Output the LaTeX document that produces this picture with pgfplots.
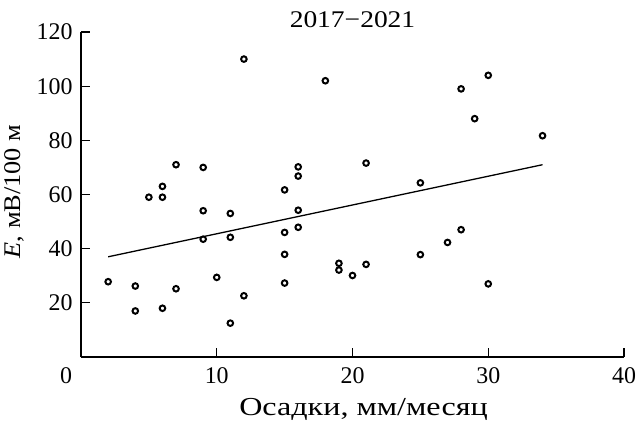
\documentclass[border=0pt]{standalone}
\usepackage{pgfplots}
\pgfplotsset{compat=1.18}
\usepackage{fontspec}
\setmainfont{Liberation Serif}
\newfontfamily\wideA{Liberation Serif}[FakeStretch=1.24]
\newfontfamily\wideB{Liberation Serif}[FakeStretch=1.15]
\newfontfamily\wideC{Liberation Serif}[FakeStretch=1.1]
\begin{document}
\begin{tikzpicture}
\begin{axis}[
  name=ax,
  scale only axis,
  width=543bp, height=325bp,
  xmin=0, xmax=40, ymin=0, ymax=120,
  axis lines=left,
  axis line style={-, line width=1.1pt},
  xtick={0,10,20,30,40},
  xticklabels={\hspace*{-30bp}0,10,20,30,40},
  ytick={20,40,...,120},
  major tick length=9bp,
  tick style={line width=1.1pt, black},
  tick align=inside,
  /pgf/number format/assume math mode=true,
  tick label style={font=\fontsize{24}{27}\selectfont},
  xticklabel style={yshift=-7bp},
  yticklabel style={xshift=-5bp},
  xlabel style={font=\fontsize{26}{29}\selectfont\wideA, yshift=-8bp, xshift=11bp},
  ylabel style={font=\fontsize{24}{27}\selectfont\wideC, yshift=6bp, xshift=3bp},
  title style={font=\fontsize{24}{27}\selectfont\wideB, yshift=-5bp},
  title={2017−2021},
  xlabel={Осадки, мм/месяц},
  ylabel={\textit{E}, мВ/100 м},
  clip=false,
]
\addplot[only marks, mark=o, mark size=2.8bp, mark options={line width=2pt, black}] coordinates {
(12,110) (5,59) (6,59) (6,63) (7,71) (9,70) (9,54) (11,53)
(15,61.7) (16,70.2) (16,66.8) (16,54.2)
(18,102) (28,99) (30,104) (29,88) (34,81.7) (21,71.6) (25,64.3)
(9,43.5) (11,44.2) (15,46) (16,47.9) (15,37.9) (15,27.3)
(2,27.8) (4,26.2) (4,17) (6,18) (7,25.2) (10,29.4) (12,22.6) (11,12.5)
(19,34.6) (19,32.1) (20,30.1) (21,34.2) (25,37.8) (27,42.3) (28,47) (30,27)
};
\addplot[black, line width=1.3pt] coordinates {(2,37) (34,71)};
\end{axis}
\pgfresetboundingbox
\path[use as bounding box] ([xshift=-81bp,yshift=-66bp]ax.south west) rectangle ([xshift=16bp,yshift=32bp]ax.north east);
\end{tikzpicture}
\end{document}
